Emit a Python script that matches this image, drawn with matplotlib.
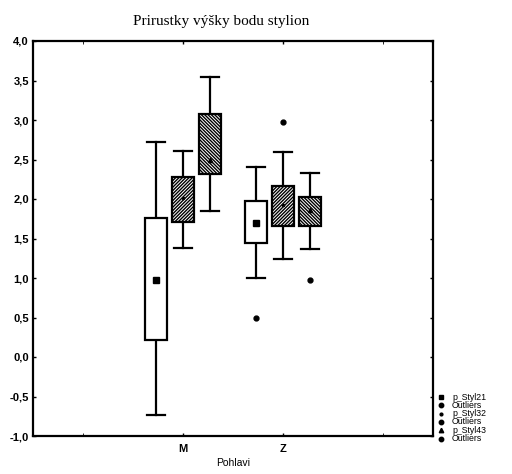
import matplotlib
matplotlib.use("Agg")
import matplotlib.pyplot as plt
from matplotlib.patches import Rectangle
from matplotlib.lines import Line2D

categories = ["M", "Z"]
series = ["p_Styl21", "p_Styl32", "p_Styl43"]
# per series: lists over categories (M, Z)
whisker_low = {"p_Styl21": [-0.73, 1.00], "p_Styl32": [1.38, 1.24], "p_Styl43": [1.85, 1.37]}
box_low     = {"p_Styl21": [0.22, 1.44], "p_Styl32": [1.71, 1.66], "p_Styl43": [2.32, 1.66]}
center      = {"p_Styl21": [0.98, 1.70], "p_Styl32": [2.01, 1.92], "p_Styl43": [2.49, 1.86]}
box_high    = {"p_Styl21": [1.76, 1.97], "p_Styl32": [2.28, 2.17], "p_Styl43": [3.08, 2.03]}
whisker_high= {"p_Styl21": [2.72, 2.40], "p_Styl32": [2.61, 2.60], "p_Styl43": [3.54, 2.33]}
outliers    = {"p_Styl21": [[], [0.49]], "p_Styl32": [[], [2.98]], "p_Styl43": [[], [0.98]]}

yticks = [-1.0, -0.5, 0.0, 0.5, 1.0, 1.5, 2.0, 2.5, 3.0, 3.5, 4.0]
legend_labels = ["p_Styl21", "Outliers", "p_Styl32", "Outliers", "p_Styl43", "Outliers"]
legend_markers = ["s", "o", ".", "o", "^", "o"]

plt.rcParams["hatch.linewidth"] = 1.0

fig = plt.figure(figsize=(5.12, 4.74), dpi=100)
ax = fig.add_axes([33/512, 1-436/474, 400/512, 395/474])

offsets = [-0.27, 0.0, 0.27]
hatches = [None, "/" * 10, "\\" * 10]
mean_markers = ["s", ".", "^"]
width = 0.22
cat_pos = [1, 2]

for si, s in enumerate(series):
    for ci, cpos in enumerate(cat_pos):
        x = cpos + offsets[si]
        lo, hi = box_low[s][ci], box_high[s][ci]
        wl, wh = whisker_low[s][ci], whisker_high[s][ci]
        ax.plot([x, x], [hi, wh], color="black", lw=1.6, zorder=2)
        ax.plot([x, x], [wl, lo], color="black", lw=1.6, zorder=2)
        ax.plot([x - 0.09, x + 0.09], [wh, wh], color="black", lw=1.6, zorder=2)
        ax.plot([x - 0.09, x + 0.09], [wl, wl], color="black", lw=1.6, zorder=2)
        rect = Rectangle((x - width/2, lo), width, hi - lo, facecolor="white",
                         edgecolor="black", lw=1.6, hatch=hatches[si], zorder=3)
        ax.add_patch(rect)
        ax.plot([x], [center[s][ci]], marker=mean_markers[si], color="black",
                ms=4 if si == 0 else 3, zorder=4, linestyle="none")
        for o in outliers[s][ci]:
            ax.plot([x], [o], marker="o", color="black", ms=3.5, zorder=4, linestyle="none")

ax.set_xlim(-0.5, 3.5)
ax.set_ylim(-1.0, 4.0)
ax.set_yticks(yticks)
ax.set_yticklabels([f"{v:.1f}".replace(".", ",") for v in yticks],
                   fontsize=8, fontweight="bold", family="Liberation Sans")
ax.set_xticks(cat_pos)
ax.set_xticklabels(categories, fontsize=8, fontweight="bold", family="Liberation Sans")
ax.tick_params(axis="both", length=2, width=1, direction="in", top=True, right=True)
ax.tick_params(axis="x", pad=6)
ax.tick_params(axis="y", pad=3)
ax.set_xticks([0, 1, 2, 3], minor=True)
ax.tick_params(axis="x", which="minor", length=2, direction="in", top=True)
for sp in ax.spines.values():
    sp.set_linewidth(1.6)
ax.set_xlabel("Pohlavi", fontsize=7.5, family="Liberation Sans", labelpad=3)

fig.text(221/512, 1-22/474, "Prirustky výšky bodu stylion", ha="center", va="center",
         fontsize=11, family="Liberation Serif")

# legend (outside the axes, bottom right)
y0 = 397
dy = 8.3
for i, (lab, mk) in enumerate(zip(legend_labels, legend_markers)):
    yy = 1 - (y0 + i * dy) / 474
    fig.add_artist(Line2D([441/512], [yy], marker=mk, color="black", ls="none",
                          ms=3.2 if mk != "." else 4, transform=fig.transFigure))
    fig.text(452/512, yy, lab, ha="left", va="center", fontsize=6.3,
             family="Liberation Sans")

fig.savefig("out.png", dpi=100)
